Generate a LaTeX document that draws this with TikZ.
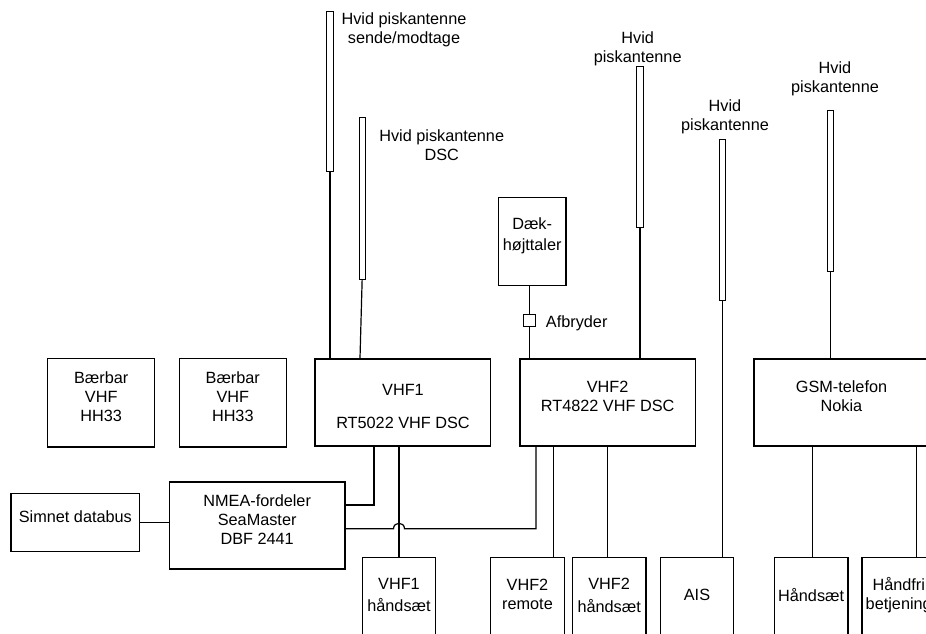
\documentclass[tikz,border=0pt]{standalone}
\usepackage{fontspec}
\setmainfont{Liberation Sans}
\usetikzlibrary{fit}
\newcommand\labfont{\fontsize{12.2}{14.2}\selectfont}
\begin{document}
\begin{tikzpicture}[x=0.75pt,y=-0.75pt,
  box/.style={draw, line width=1.05pt, inner sep=0pt, align=center, font=\labfont},
  ant/.style={draw, line width=0.75pt, inner sep=0pt},
  txt/.style={align=center, inner sep=0pt, font=\labfont},
  wire/.style={line width=0.9pt}]
\useasboundingbox (0,0) rectangle (926,633);
\clip (0,0) rectangle (926,633);

% antennas
\node[ant, fit={(326.7,11)(333.3,171.7)}] (ant1) {};
\node[ant, fit={(359.3,117)(365,279)}] (ant2) {};
\node[ant, fit={(636.7,66.3)(643.3,227.7)}] (ant3) {};
\node[ant, fit={(719.3,139.3)(725,300.3)}] (ant4) {};
\node[ant, fit={(827.7,110)(833.3,271.3)}] (ant5) {};

% antenna labels
\node[txt] (l1) at (404,30) {Hvid piskantenne\\sende/modtage};
\node[txt] (l2) at (441.7,145.2) {Hvid piskantenne\\DSC};
\node[txt] (l3) at (637.7,49.2) {Hvid\\piskantenne};
\node[txt] (l4) at (725,116.7) {Hvid\\piskantenne};
\node[txt] (l5) at (835,79) {Hvid\\piskantenne};

% boxes
\node[box, fit={(47.7,358.7)(154.7,447)}] (b1) {Bærbar\\VHF\\HH33};
\node[box, fit={(179.3,358.7)(286.3,447)}] (b2) {Bærbar\\VHF\\HH33};
\node[box, fit={(315,359)(490.7,446)}] (vhf1) {};
\node[txt] (vhf1t) at (403,406.3) {VHF1\\[11pt]RT5022 VHF DSC};
\node[box, fit={(520,359)(695.3,446)}] (vhf2) {VHF2\\RT4822 VHF DSC};
\node[box, fit={(754,359)(929,446)}] (gsm) {GSM-telefon\\Nokia};
\node[box, fit={(498.3,197.7)(566,285.7)}] (spk) {Dæk-\\[2pt]højttaler};
\node[box, line width=0.9pt, fit={(523.3,314.3)(535.3,326.7)}] (sw) {};
\node[txt, anchor=west] (swl) at (545.7,323.3) {Afbryder};
\node[box, fit={(169.3,482)(345,569)}] (nmea) {NMEA-fordeler\\SeaMaster\\DBF 2441};
\node[box, fit={(11,493.7)(139.7,551.7)}] (sim) {Simnet databus};

% bottom boxes
\node[box, fit={(362.3,557.7)(435.7,645)}] (h1) {};
\node[txt] (h1t) at (h1.north |- 0,595) {VHF1\\[3pt]håndsæt};
\node[box, fit={(490.7,557.7)(564.3,645)}] (rem) {};
\node[txt] (remt) at (rem.north |- 0,594.3) {VHF2\\remote};
\node[box, fit={(572.3,557.7)(646,645)}] (h2) {};
\node[txt] (h2t) at (h2.north |- 0,595) {VHF2\\[3pt]håndsæt};
\node[box, fit={(660.3,557.7)(733.7,645)}] (ais) {};
\node[txt] (aist) at (ais.north |- 0,595) {AIS};
\node[box, fit={(774.3,557.7)(848,645)}] (hs) {};
\node[txt] (hst) at (hs.north |- 0,595) {Håndsæt};
\node[box, fit={(862,557.7)(935.5,645)}] (hf) {};
\node[txt] (hft) at (hf.north |- 0,595.3) {Håndfri\\betjening};

% connectors
\draw[wire] (ant1.south) -- (ant1.south |- vhf1.north);
\draw[wire] (ant2.south) -- (360,0 |- vhf1.north);
\draw[wire] (ant3.south) -- (ant3.south |- vhf2.north);
\draw[wire] (ant4.south) -- (ant4.south |- ais.north);
\draw[wire] (ant5.south) -- (ant5.south |- gsm.north);
\draw[wire] (sw.north |- spk.south) -- (sw.north);
\draw[wire] (sw.south) -- (sw.south |- vhf2.north);
\draw[wire] (374,0 |- vhf1.south) |- (nmea.east |- 0,505);
\draw[wire] (sim.east |- 0,522.7) -- (nmea.west |- 0,522.7);
\draw[wire] (h1.north) -- (h1.north |- vhf1.south);
\draw[wire] (nmea.east |- 0,528.7) -- (393.5,528.7) .. controls (393.5,521.5) and (404.5,521.5) .. (404.5,528.7) -- (536,528.7) -- (536,0 |- vhf2.south);
\draw[wire] (553.3,0 |- vhf2.south) -- (553.3,0 |- rem.north);
\draw[wire] (607.7,0 |- vhf2.south) -- (607.7,0 |- h2.north);
\draw[wire] (812.3,0 |- gsm.south) -- (812.3,0 |- hs.north);
\draw[wire] (916.7,0 |- gsm.south) -- (916.7,0 |- hf.north);
\end{tikzpicture}
\end{document}
